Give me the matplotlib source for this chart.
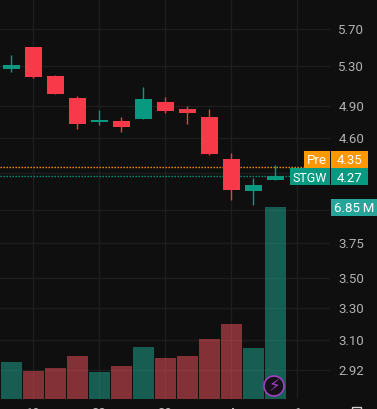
"""
STGW daily candles with volume, dark theme
"""
import matplotlib
matplotlib.use('Agg')
import matplotlib.pyplot as plt
from matplotlib.patches import Rectangle, Circle
from matplotlib.transforms import Affine2D
import numpy as np

W, H = 377, 409

# candle values
opens = [5.270, 5.502, 5.198, 4.979, 4.750, 4.759, 4.778, 4.940, 4.873, 4.797, 4.417, 4.149, 4.239]
closes = [5.312, 5.188, 5.018, 4.731, 4.769, 4.703, 4.969, 4.853, 4.834, 4.461, 4.157, 4.198, 4.273]
highs = [5.417, 5.502, 5.208, 4.998, 4.863, 4.797, 5.087, 4.989, 4.901, 4.873, 4.470, 4.256, 4.366]
lows = [5.239, 5.178, 5.018, 4.685, 4.722, 4.658, 4.778, 4.834, 4.731, 4.452, 4.076, 4.036, 4.239]
# volume in millions
volumes = [1.32, 1.00, 1.11, 1.53, 0.96, 1.18, 1.86, 1.46, 1.53, 2.14, 2.68, 1.82, 6.85]

price_ticks = [5.70, 5.30, 4.90, 4.60, 4.30, 4.00, 3.75, 3.50, 3.30, 3.10, 2.92]
price_labels = ['5.70', '5.30', '4.90', '4.60', '', '', '3.75', '3.50', '3.30', '3.10', '2.92']
date_ticks = [1, 4, 7, 10, 13]
date_labels = ['19', '23', '28', '4', '6']

pre_price = 4.35
last_price = 4.27

BG = '#0f0f0f'
GRID = '#1e1e1e'
UP = '#089981'
DOWN = '#f7394a'
TXT = '#b2b2b2'

plt.rcParams['font.family'] = ['Roboto', 'DejaVu Sans']

fig = plt.figure(figsize=(W / 100, H / 100), dpi=100, facecolor=BG)
# 像素坐标，原点在左上
px = Affine2D().scale(1, -1).translate(0, H)

rect = [0, 10 / H, 330 / W, 399 / H]
ax = fig.add_axes(rect, facecolor=BG)
ax_vol = fig.add_axes(rect, sharex=ax)
ax_vol.patch.set_visible(False)
ax_vol.axis('off')

x = np.arange(len(opens))
up = np.array(closes) >= np.array(opens)
colors = [UP if u else DOWN for u in up]

# 价格轴，对数刻度
ax.set_yscale('log')
ax.set_xlim(-0.505, 14.495)
ax.set_ylim(5.7 * np.exp(-370 / 510), 5.7 * np.exp(29 / 510))
ax.set_yticks(price_ticks)
ax.set_yticklabels(price_labels)
ax.minorticks_off()
ax.yaxis.tick_right()
ax.set_xticks(date_ticks)
ax.set_xticklabels(date_labels)
ax.tick_params(axis='y', length=0, pad=6, labelsize=9.5, labelcolor=TXT)
ax.tick_params(axis='x', length=0, pad=6, labelsize=9.5, labelcolor=TXT)
ax.grid(True, color=GRID, lw=1)
ax.set_axisbelow(True)
for s in ax.spines.values():
    s.set_visible(False)

ax.vlines(x, lows, highs, colors=colors, lw=1, zorder=3)
ax.bar(x, np.abs(np.array(closes) - np.array(opens)), bottom=np.minimum(opens, closes),
       width=0.77, color=colors, zorder=4)

ax.axhline(pre_price, color='#ff9800', lw=1, ls=(0, (1, 1.16)), zorder=2)
ax.axhline(last_price, color=UP, lw=1, ls=(0, (1, 1.16)), zorder=2)

# 成交量
ax_vol.set_ylim(0, 399 * 6.85 / 192)
vol_colors = ['#22ab94' if u else '#f7525f' for u in up]
ax_vol.bar(x, volumes, width=0.955, color=vol_colors, alpha=0.5)


def box(x0, y0, x1, y1, color, text, text_color='white', size=9.5):
    fig.add_artist(Rectangle((x0, y0), x1 - x0, y1 - y0, transform=px, facecolor=color,
                             edgecolor='none', zorder=5))
    fig.text((x0 + x1) / 2, (y0 + y1) / 2, text, transform=px, color=text_color, fontsize=size,
             ha='center', va='center_baseline', zorder=6)


box(304, 151, 330, 168, '#ff9800', 'Pre')
box(331, 151, 368, 168, '#ff9800', '%.2f' % pre_price)
box(290, 168, 330, 185, UP, 'STGW', size=9)
box(331, 168, 368, 185, UP, '%.2f' % last_price)
box(331, 199, 377, 216, '#26a69a', '%.2f\u2009M' % volumes[-1])

# 闪电图标
fig.add_artist(Circle((274, 386), 10, transform=px, facecolor='#151018', edgecolor='#a13fc0',
                      lw=1.2, zorder=5))
fig.text(274, 386, '\u26a1', transform=px, color='#a13fc0', fontsize=12,
         family='DejaVu Sans', ha='center', va='center', zorder=6)

# 底部设置按钮，只露出上边
fig.add_artist(Rectangle((352, 407), 9, 8, transform=px, facecolor='none', edgecolor='#d0d0d0',
                         lw=1, zorder=5))

fig.savefig('out.png', dpi=100, facecolor=BG)
